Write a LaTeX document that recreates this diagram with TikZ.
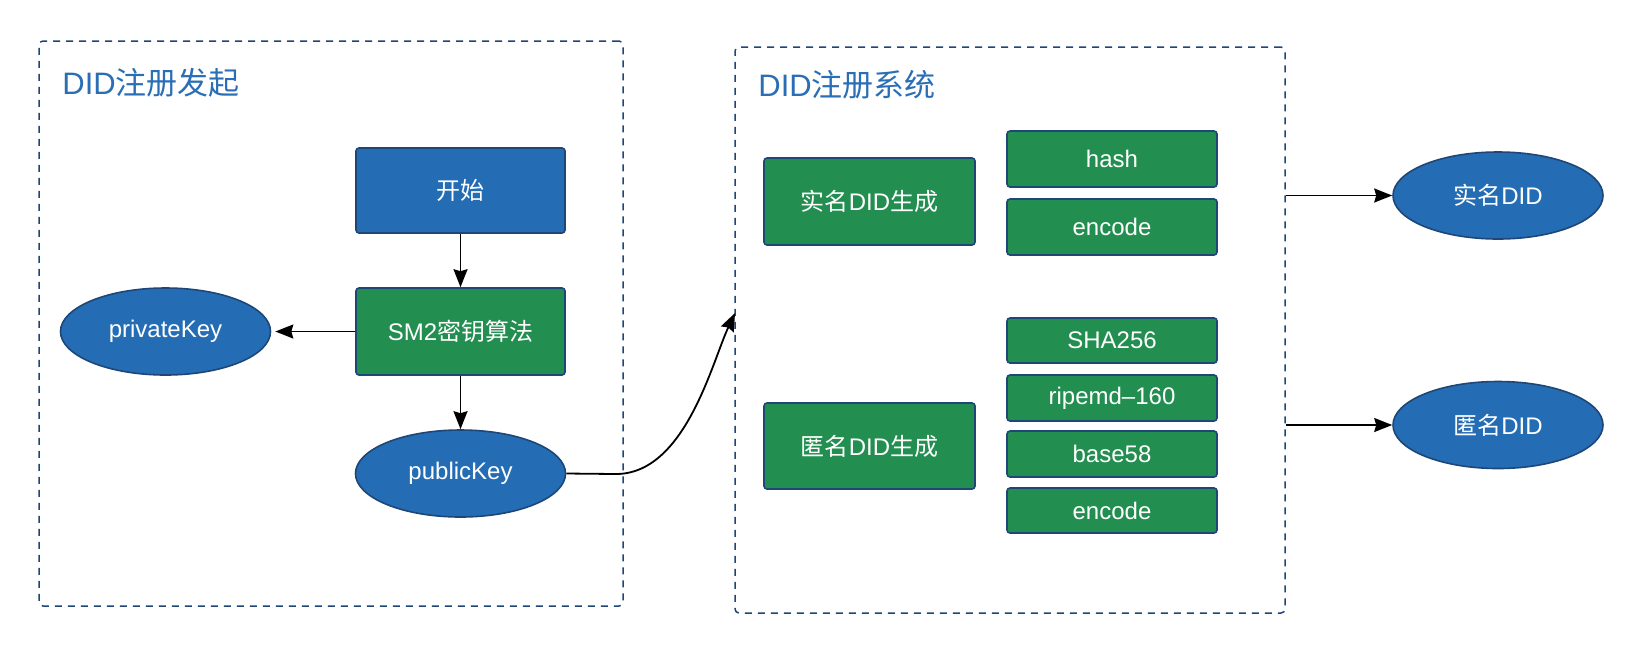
\documentclass[tikz,border=0pt]{standalone}
\usepackage{fontspec}
\setmainfont{Liberation Sans}
\newfontfamily\cjk{Noto Sans CJK SC}
\usetikzlibrary{arrows.meta,shapes.geometric}
\definecolor{boxblue}{HTML}{246DB5}
\definecolor{boxgreen}{HTML}{228E50}
\definecolor{navy}{HTML}{1E4676}
\definecolor{titleblue}{HTML}{2A6EB5}
\newcommand\zhtxt[1]{{\cjk #1}}
\begin{document}
\begin{tikzpicture}[x=0.5pt,y=-0.5pt,
  container/.style={draw=navy,line width=0.75pt,dash pattern=on 3.5pt off 3pt,rounded corners=2pt,inner sep=0pt},
  titletxt/.style={anchor=base west,inner sep=0pt,text=titleblue,font=\fontsize{15.5pt}{18pt}\selectfont},
  bluebox/.style={draw=navy,fill=boxblue,line width=0.8pt,rounded corners=1.5pt,text=white,inner sep=0pt,font=\fontsize{12pt}{14pt}\selectfont},
  greenbox/.style={draw=navy,fill=boxgreen,line width=0.8pt,rounded corners=1.5pt,text=white,inner sep=0pt,font=\fontsize{12pt}{14pt}\selectfont},
  blueell/.style={ellipse,draw=navy,fill=boxblue,line width=0.8pt,text=white,inner sep=0pt,minimum width=105pt,minimum height=43.5pt,font=\fontsize{12pt}{14pt}\selectfont},
  arr/.style={-{Stealth[length=9pt,width=7pt,inset=1pt]},line width=0.9pt,black}
]
\useasboundingbox[fill=white] (0,0) rectangle (1652,654);

% containers
\node[container,minimum width=292pt,minimum height=282.5pt] (c1) at (331,323.5) {};
\node[container,minimum width=275pt,minimum height=283pt] (c2) at (1010,330) {};
\node[titletxt] (t1) at (62,94) {DID\zhtxt{注册发起}};
\node[titletxt] (t2) at (758,96) {DID\zhtxt{注册系统}};

% left flow
\node[bluebox,minimum width=104.5pt,minimum height=42.5pt] (start) at (460.5,190.5) {\zhtxt{开始}};
\node[greenbox,minimum width=104.5pt,minimum height=43.5pt] (sm2) at (460.5,331.5) {SM2\zhtxt{密钥算法}};
\node[blueell] (priv) at (165.5,331.5) {privateKey};
\node[blueell] (pub) at (460.5,473.5) {publicKey};

% right system
\node[greenbox,minimum width=105.5pt,minimum height=43.5pt] (real) at (869.5,201.5) {\zhtxt{实名}DID\zhtxt{生成}};
\node[greenbox,minimum width=105.5pt,minimum height=43pt] (anon) at (869.5,446) {\zhtxt{匿名}DID\zhtxt{生成}};
\node[greenbox,minimum width=105pt,minimum height=28pt] (hash) at (1112,159) {hash};
\node[greenbox,minimum width=105pt,minimum height=28pt] (enca) at (1112,227) {encode};
\node[greenbox,minimum width=105pt,minimum height=22.5pt] (sha) at (1112,340.5) {SHA256};
\node[greenbox,minimum width=105pt,minimum height=23pt] (rip) at (1112,398) {ripemd--160};
\node[greenbox,minimum width=105pt,minimum height=23pt] (b58) at (1112,454) {base58};
\node[greenbox,minimum width=105pt,minimum height=22.5pt] (encb) at (1112,510.5) {encode};

% outputs
\node[blueell] (realdid) at (1498,195.5) {\zhtxt{实名}DID};
\node[blueell] (anondid) at (1498,425) {\zhtxt{匿名}DID};

% connectors
\draw[arr] (start.south) -- (sm2.north);
\draw[arr] (sm2.west) -- ([xshift=2pt]priv.east);
\draw[arr] (sm2.south) -- (pub.north);
\coordinate (c2in) at (735,313);
\draw[arr] (pub.east) -- (615,474) .. controls (685,475) and (712,362) .. (c2in);
\draw[arr] (c2.east |- realdid.west) -- (realdid.west);
\draw[arr] (c2.east |- anondid.west) -- (anondid.west);
\end{tikzpicture}
\end{document}
